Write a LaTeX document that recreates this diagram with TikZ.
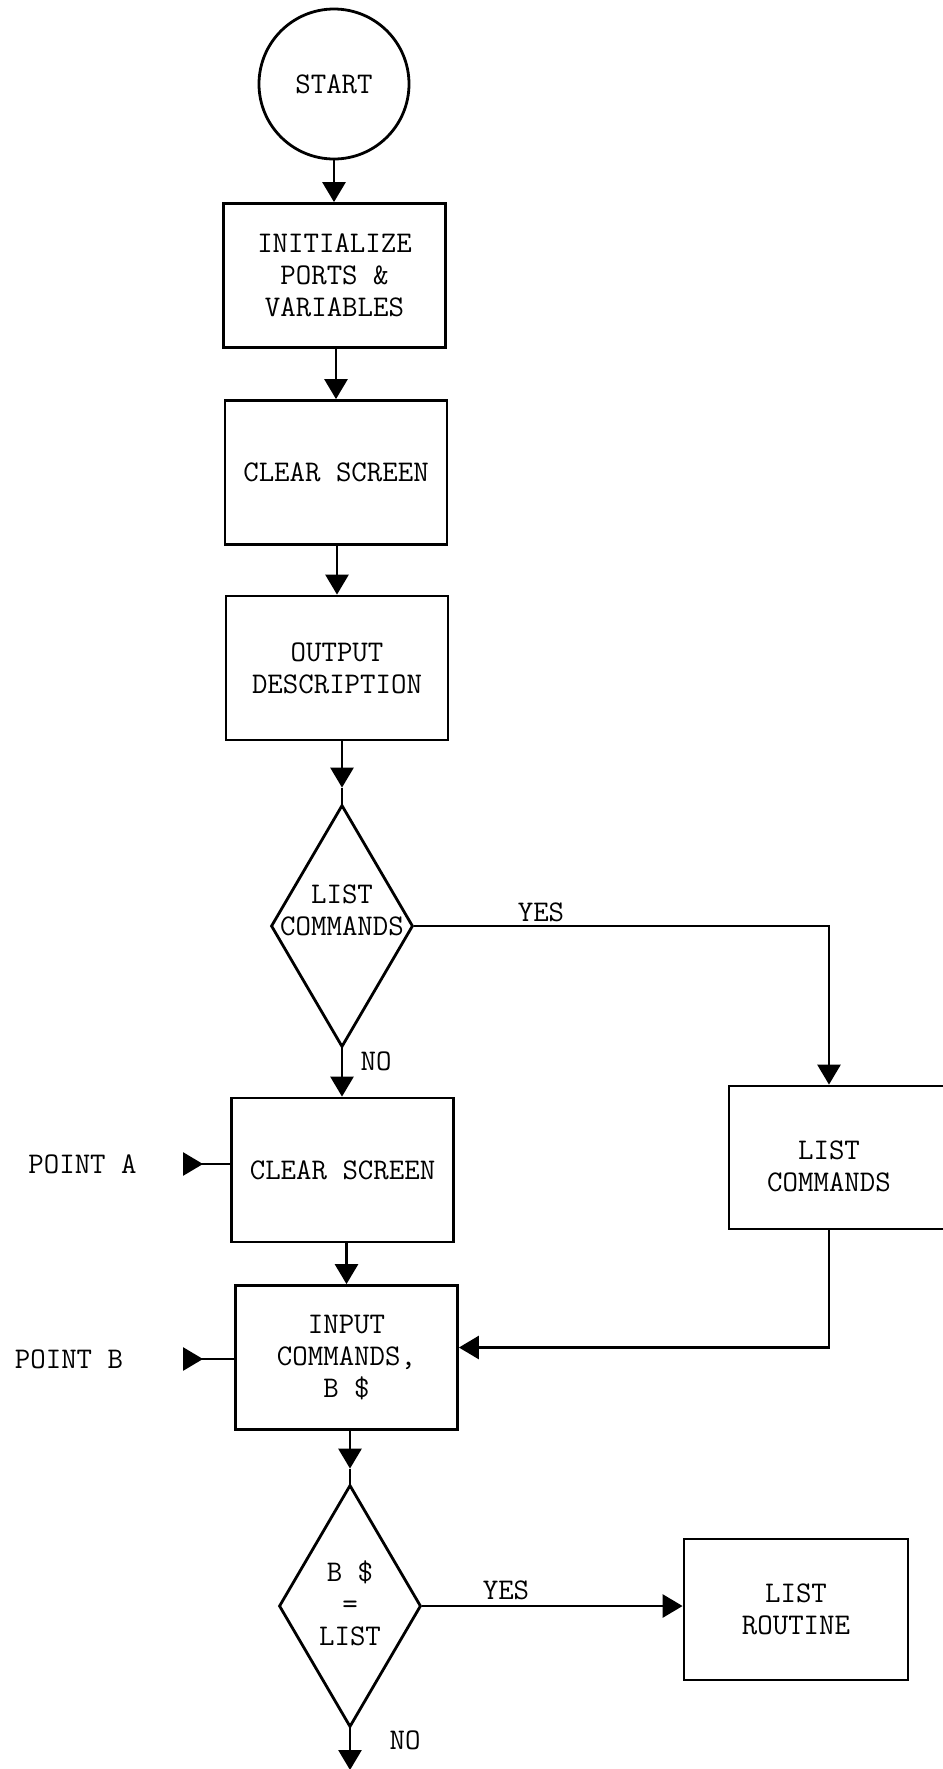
\documentclass[tikz,border=0pt]{standalone}
\usepackage{fontspec}
\usetikzlibrary{arrows.meta,shapes.geometric}

\begin{document}
\begin{tikzpicture}[x=.5pt,y=-.5pt,line width=1.4pt,
  font=\ttfamily\fontsize{15}{16}\selectfont,
  flowtip/.tip={Triangle[width=11.5pt,length=10pt]},
  procbox/.style={draw,minimum width=111pt,minimum height=72pt,align=center},
  decision/.style={draw,diamond,minimum width=71pt,minimum height=121pt,inner sep=0pt},
  terminal/.style={draw,circle,minimum size=75pt,inner sep=0pt},
  txt/.style={align=center,inner sep=1pt}]
\useasboundingbox (0,0) rectangle (943,1769);
% main column
\node[terminal] (start) at (334,84) {START};
\node[procbox] (init) at (334.5,275.5) {INITIALIZE\\PORTS \&\\VARIABLES};
\node[procbox] (clr1) at (336,472.5) {CLEAR SCREEN};
\node[procbox] (outp) at (337,668) {OUTPUT\\DESCRIPTION};
\node[decision] (lcq) at (342,926) {};
\node[txt] (lcqt) at (342,910) {LIST\\COMMANDS};
\node[procbox] (clr2) at (342.5,1170) {CLEAR SCREEN};
\node[procbox] (inp) at (346.5,1357.5) {INPUT\\COMMANDS,\\B \$};
\node[decision] (bsq) at (350,1606) {};
\node[txt] (bsqt) at (350,1603) {B \$\\=\\LIST};
% right column
\node[procbox,minimum width=113pt,minimum height=71.5pt] (lcmd) at (842,1157.5) {};
\node[txt] (lcmdt) at (829,1166.5) {LIST\\COMMANDS};
\node[procbox,minimum width=112pt,minimum height=70.5pt] (lrout) at (796,1609.5) {LIST\\ROUTINE};
% entry points
\node[txt] (pta) at (82.5,1164) {POINT A};
\node[txt] (ptb) at (69,1359) {POINT B};
\coordinate (pain) at (183,1164);
\coordinate (pbin) at (183,1359);
\coordinate (bsqout) at (350,1770);
% labels
\node[txt] (yes1) at (541,912) {YES};
\node[txt] (no1) at (376,1061) {NO};
\node[txt] (yes2) at (506,1590) {YES};
\node[txt] (no2) at (405,1740) {NO};
% connectors
\draw[-flowtip] (start) -- (start |- init.north);
\draw[-flowtip] (init.south -| clr1) -- (clr1);
\draw[-flowtip] (clr1.south -| outp) -- (outp);
\draw[-flowtip] (outp.south -| lcq) -- ([yshift=8pt]lcq.north);
\draw ([yshift=8pt]lcq.north) -- (lcq.north);
\draw[-flowtip] (lcq.south) -- (lcq.south |- clr2.north);
\draw[-flowtip] (clr2.south -| inp) -- (inp);
\draw[-flowtip] (inp.south -| bsq) -- ([yshift=7.5pt]bsq.north);
\draw ([yshift=7.5pt]bsq.north) -- (bsq.north);
\draw[-flowtip] (bsq.south) -- (bsqout);
\draw[-flowtip] (lcq.east) -| (lcmdt |- lcmd.north);
\draw[-flowtip] (lcmdt |- lcmd.south) |- ([yshift=5pt]inp.east);
\draw[-flowtip] (bsq.east) -- (bsq.east -| lrout.west);
\draw[{flowtip[reversed]}-] (pain) -- (pain -| clr2.west);
\draw[{flowtip[reversed]}-] (pbin) -- (pbin -| inp.west);
\end{tikzpicture}
\end{document}
